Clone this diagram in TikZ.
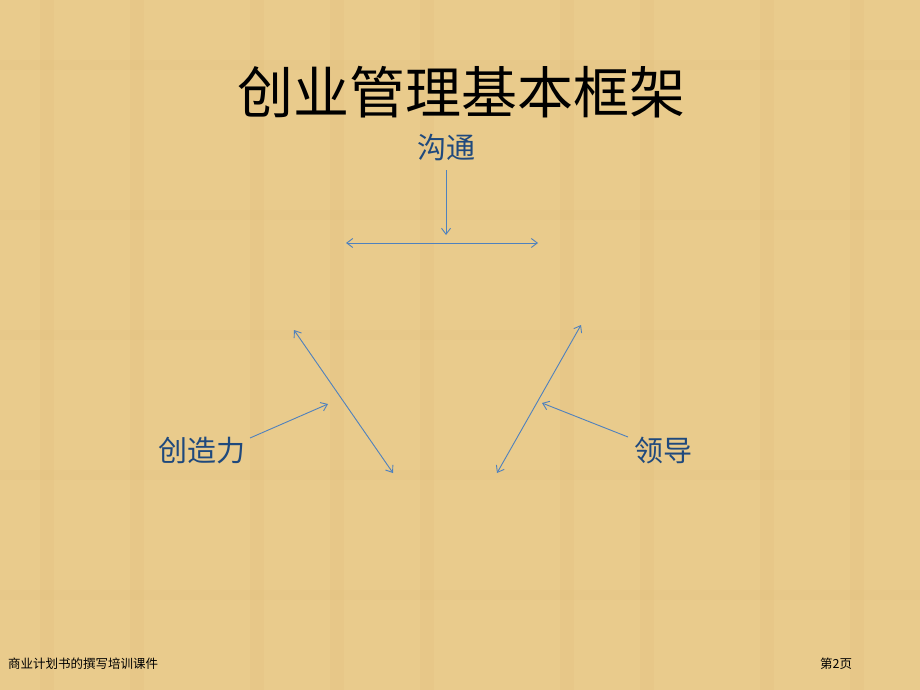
\documentclass[tikz,border=0pt]{standalone}
\usepackage{fontspec}
\setmainfont{Noto Sans CJK SC}
\newfontfamily\cjk{Noto Sans CJK SC}
\usetikzlibrary{arrows.meta}
\definecolor{paper}{RGB}{233,203,140}
\definecolor{paperdark}{RGB}{222,186,118}
\definecolor{labelblue}{RGB}{31,73,125}
\definecolor{arrowblue}{RGB}{79,129,189}
\tikzset{
  lbl/.style={text=labelblue, font=\cjk\fontsize{29}{32}\selectfont, inner sep=0pt},
  conn/.style={draw=arrowblue, line width=0.9pt, -{Straight Barb[length=6pt,width=9pt]}},
  dconn/.style={draw=arrowblue, line width=0.9pt, {Straight Barb[length=6pt,width=9pt]}-{Straight Barb[length=6pt,width=9pt]}},
  foot/.style={font=\cjk\fontsize{12.5}{14}\selectfont, text=black, inner sep=0pt}
}
\begin{document}
\begin{tikzpicture}[x=1pt,y=-1pt]
\fill[paper] (0,0) rectangle (920,690);
\useasboundingbox (0,0) rectangle (920,690);
% faint paper texture
\foreach \x in {40,130,250,330,420,560,640,760,850}{
  \fill[paperdark,opacity=0.18] (\x,0) rectangle (\x+14,690);
}
\foreach \y in {60,210,330,470,590}{
  \fill[paperdark,opacity=0.12] (0,\y) rectangle (920,\y+10);
}
\node[font=\cjk\fontsize{56}{60}\selectfont, inner sep=0pt] (title) at (461,92) {创业管理基本框架};
\node[lbl] (goutong) at (446,148) {沟通};
\node[lbl] (chuangzao) at (202,451) {创造力};
\node[lbl] (lingdao) at (663,451) {领导};
\coordinate (gtop) at (446,170);
\coordinate (gbot) at (446,235);
\coordinate (hl) at (346,243);
\coordinate (hr) at (538,243);
\coordinate (la) at (294,330);
\coordinate (lb) at (393,473);
\coordinate (ra) at (581,325);
\coordinate (rb) at (497,473);
\coordinate (cs) at (250,438);
\coordinate (ce) at (328,404);
\coordinate (ls) at (628,437);
\coordinate (le) at (542,403);
\draw[conn] (gtop) -- (gbot);
\draw[dconn] (hl) -- (hr);
\draw[dconn] (la) -- (lb);
\draw[dconn] (ra) -- (rb);
\draw[conn] (cs) -- (ce);
\draw[conn] (ls) -- (le);
\node[foot, anchor=west] (footl) at (8,664) {商业计划书的撰写培训课件};
\node[foot, anchor=west] (footr) at (820,664) {第2页};
\end{tikzpicture}
\end{document}
